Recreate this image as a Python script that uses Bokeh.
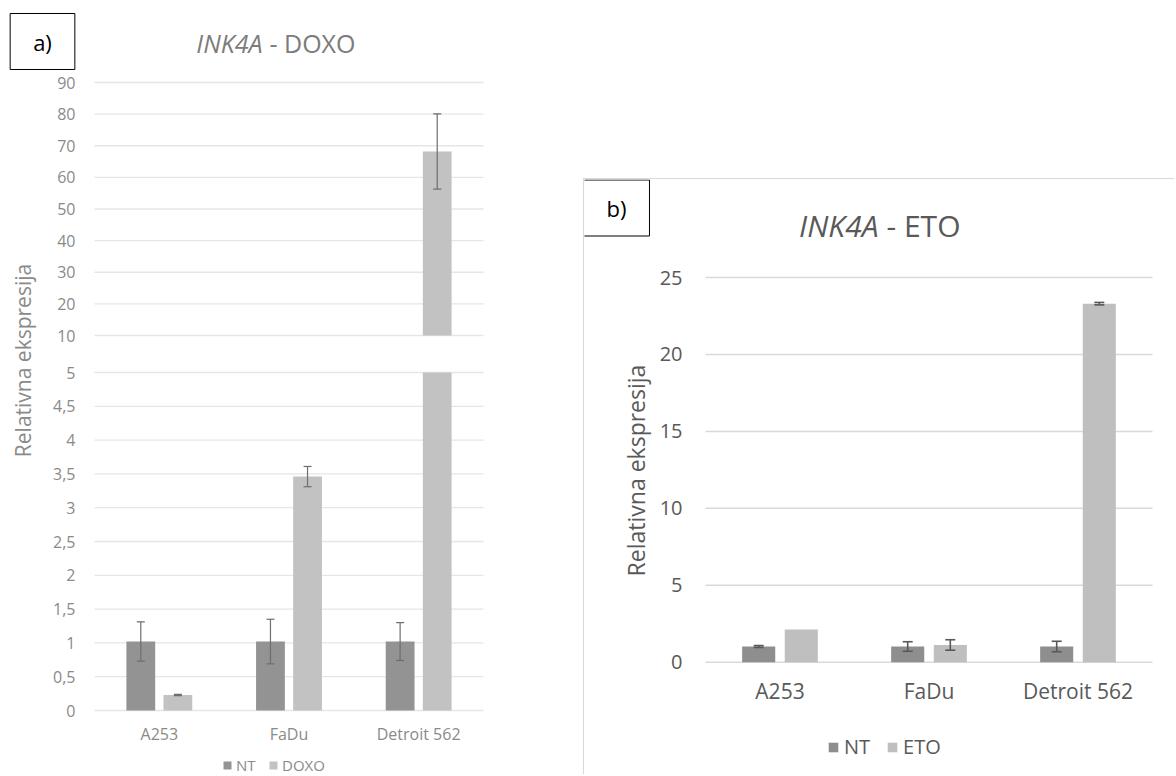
import numpy as np
from bokeh.plotting import figure
from bokeh.models import (Range1d, LinearAxis, FixedTicker, Whisker, TeeHead, ColumnDataSource,
                          Label, Legend, LegendItem, CustomJSTickFormatter, Spacer)
from bokeh.layouts import row, column
from bokeh.transform import dodge
from bokeh.embed import file_html
from bokeh.resources import INLINE

# ---------------- data ----------------
categories = ["A253", "FaDu", "Detroit 562"]
series_a = ["NT", "DOXO"]
series_b = ["NT", "ETO"]

doxo_nt = [1.02, 1.02, 1.02]
doxo_nt_err = [0.29, 0.33, 0.28]
doxo = [0.23, 3.46, 68.2]
doxo_err = [0.01, 0.15, 11.9]

eto_nt = [1.02, 1.02, 1.02]
eto_nt_err = [0.06, 0.31, 0.34]
eto = [2.13, 1.12, 23.3]
eto_err = [0.0, 0.34, 0.08]

a_low_ticks = [0, 0.5, 1, 1.5, 2, 2.5, 3, 3.5, 4, 4.5, 5]
a_high_ticks = [10, 20, 30, 40, 50, 60, 70, 80, 90]
b_ticks = [0, 5, 10, 15, 20, 25]
break_low, break_high = 5, 10

title_gene = "INK4A"
title_a_rest = "- DOXO"
title_b_rest = "- ETO"
y_label = "Relativna ekspresija"

# ---------------- styles ----------------
FONT = "Open Sans"
OFF = 0.143
BW = 0.222
NCAT = len(categories)
pos = [i + 0.5 for i in range(NCAT)]

A_NT, A_TRT, A_ERR, A_GRID, A_TEXT, A_TITLE = "#939393", "#c2c2c2", "#6e6e6e", "#e6e6e6", "#8a8a8a", "#7c7c7c"
B_NT, B_TRT, B_ERR, B_GRID, B_TEXT = "#8e8e8e", "#bfbfbf", "#595959", "#d9d9d9", "#595959"


def lin(px, px_a, val_a, px_b, val_b):
    return val_a + (px - px_a) * (val_b - val_a) / (px_b - px_a)


def px_range(px_a, val_a, px_b, val_b, edge0, edge1):
    return Range1d(lin(edge0, px_a, val_a, px_b, val_b), lin(edge1, px_a, val_a, px_b, val_b))


def whisker(p, src, off, color, size, lw, yname="default"):
    w = Whisker(base=dodge("pos", off), lower="lo", upper="hi", source=src,
                dimension="height", line_color=color, line_width=lw, y_range_name=yname,
                level="annotation",
                upper_head=TeeHead(size=size, line_color=color, line_width=lw),
                lower_head=TeeHead(size=size, line_color=color, line_width=lw))
    p.add_layout(w)


def style_axis(ax, size, color, standoff):
    ax.axis_line_color = None
    ax.major_tick_line_color = None
    ax.minor_tick_line_color = None
    ax.major_tick_out = 0
    ax.major_tick_in = 0
    ax.minor_tick_out = 0
    ax.major_label_text_font = FONT
    ax.major_label_text_font_size = size
    ax.major_label_text_color = color
    ax.major_label_standoff = standoff
    ax.fixed_location = 0


def err_source(idx, vals, errs):
    return ColumnDataSource(dict(pos=[pos[i] for i in idx],
                                 lo=[vals[i] - errs[i] for i in idx],
                                 hi=[vals[i] + errs[i] for i in idx]))


def new_fig(xr, yr, w, h):
    p = figure(x_range=xr, y_range=yr, width=w, height=h, output_backend="svg",
               toolbar_location=None, min_border=0, min_border_left=0, min_border_right=0,
               min_border_top=0, min_border_bottom=0, outline_line_color=None)
    p.xgrid.visible = False
    p.ygrid.visible = False
    p.xaxis.ticker = FixedTicker(ticks=pos)
    p.xaxis.formatter = CustomJSTickFormatter(args=dict(names=categories),
                                              code="return names[Math.round(tick - 0.5)];")
    return p


def text_label(p, x, y, text, size, color, align="center", style="normal", angle=0.0):
    p.add_layout(Label(x=x, y=y, text=text, text_align=align, text_baseline="middle",
                       text_font=FONT, text_font_size=size, text_font_style=style,
                       text_color=color, angle=angle))


def box_label(p, x, y, text, pad):
    p.add_layout(Label(x=x, y=y, text=text, text_align="center", text_baseline="middle",
                       text_font=FONT, text_font_size="22px", text_color="black",
                       border_line_color="black", border_line_width=1,
                       background_fill_color="white", padding=pad))


# ================= panel a (canvas at window 0,0) =================
A_W, A_H = 583, 776
ax_ = (94, 0, 483, NCAT)                # px of category-area edges
ay_lo = (710, 0, 372, break_low)        # px rows of 0 and 5
ay_hi = (335, break_high, 82, 90)       # px rows of 10 and 90

pa = new_fig(px_range(*ax_, 0, A_W), px_range(*ay_lo, A_H, 0), A_W, A_H)
pa.extra_y_ranges = {"hi": px_range(*ay_hi, A_H, 0)}

def a_x(px): return lin(px, *ax_)
def a_y(py): return lin(py, *ay_lo)

pa.segment(x0=0, x1=NCAT, y0=a_low_ticks, y1=a_low_ticks, line_color=A_GRID, line_width=1.3)
pa.segment(x0=0, x1=NCAT, y0=a_high_ticks, y1=a_high_ticks, line_color=A_GRID, line_width=1.3,
           y_range_name="hi")

src_a = ColumnDataSource(dict(pos=pos, nt=doxo_nt, trt_cut=list(np.minimum(doxo, break_low))))
r_a_nt = pa.vbar(x=dodge("pos", -OFF), top="nt", width=BW, source=src_a,
                 fill_color=A_NT, line_color=None)
r_a_trt = pa.vbar(x=dodge("pos", OFF), top="trt_cut", width=BW, source=src_a,
                  fill_color=A_TRT, line_color=None)
hi_idx = [i for i, v in enumerate(doxo) if v > break_high]
src_a_hi = err_source(hi_idx, doxo, doxo_err)
src_a_hi.data["top"] = [doxo[i] for i in hi_idx]
src_a_hi.data["bottom"] = [break_high] * len(hi_idx)
pa.vbar(x=dodge("pos", OFF), bottom="bottom", top="top", width=BW, source=src_a_hi,
        y_range_name="hi", fill_color=A_TRT, line_color=None)

lo_idx = [i for i, v in enumerate(doxo) if v <= break_low]
whisker(pa, err_source(range(NCAT), doxo_nt, doxo_nt_err), -OFF, A_ERR, 8, 1.2)
whisker(pa, err_source(lo_idx, doxo, doxo_err), OFF, A_ERR, 8, 1.2)
whisker(pa, src_a_hi, OFF, A_ERR, 8, 1.2, "hi")

ya = pa.yaxis[0]
ya.ticker = FixedTicker(ticks=a_low_ticks)
ya.formatter = CustomJSTickFormatter(code="return String(tick).replace('.', ',');")
ya_hi = LinearAxis(y_range_name="hi", ticker=FixedTicker(ticks=a_high_ticks))
pa.add_layout(ya_hi, "left")
for ax in (ya, ya_hi):
    style_axis(ax, "16px", A_TEXT, 19)
style_axis(pa.xaxis[0], "16px", A_TEXT, 12)

text_label(pa, a_x(262), a_y(42), title_gene, "25px", A_TITLE, "right", "italic")
text_label(pa, a_x(269), a_y(42), title_a_rest, "25px", A_TITLE, "left")
box_label(pa, a_x(42), a_y(41), "a)", (23, 23, 13, 13))
text_label(pa, a_x(22), a_y(360), y_label, "21px", A_TEXT, angle=np.pi / 2)
leg_a = Legend(items=[LegendItem(label=series_a[0], renderers=[r_a_nt]),
                      LegendItem(label=series_a[1], renderers=[r_a_trt])],
               location=(222, 1), orientation="horizontal", label_text_font=FONT,
               label_text_font_size="15px", label_text_color=A_TEXT, glyph_width=10,
               glyph_height=10, spacing=12, label_standoff=4, padding=0, margin=0,
               border_line_color=None, background_fill_alpha=0)
pa.add_layout(leg_a)

# ================= panel b (canvas at window 584,179) =================
B_X0, B_Y0, B_W, B_H = 584, 179, 591, 596
bx_ = (705, 0, 1152, NCAT)
by_ = (661.7, 0, 277, b_ticks[-1])

pb = new_fig(px_range(*bx_, B_X0, B_X0 + B_W), px_range(*by_, B_Y0 + B_H, B_Y0), B_W, B_H)
pb.styles = {"border-top": "1px solid #d9d9d9", "border-left": "1px solid #d9d9d9"}

def b_x(px): return lin(px, *bx_)
def b_y(py): return lin(py, *by_)

pb.segment(x0=0, x1=NCAT, y0=b_ticks, y1=b_ticks, line_color=B_GRID, line_width=1.5)

src_b = ColumnDataSource(dict(pos=pos, nt=eto_nt, trt=eto))
r_b_nt = pb.vbar(x=dodge("pos", -OFF), top="nt", width=BW, source=src_b,
                 fill_color=B_NT, line_color=None)
r_b_trt = pb.vbar(x=dodge("pos", OFF), top="trt", width=BW, source=src_b,
                  fill_color=B_TRT, line_color=None)
whisker(pb, err_source([i for i, e in enumerate(eto_nt_err) if e > 0], eto_nt, eto_nt_err),
        -OFF, B_ERR, 10, 1.6)
whisker(pb, err_source([i for i, e in enumerate(eto_err) if e > 0], eto, eto_err),
        OFF, B_ERR, 10, 1.6)

pb.yaxis.ticker = FixedTicker(ticks=b_ticks)
style_axis(pb.yaxis[0], "20px", B_TEXT, 23)
style_axis(pb.xaxis[0], "21px", B_TEXT, 15)

text_label(pb, b_x(878), b_y(225), title_gene, "30px", B_TEXT, "right", "italic")
text_label(pb, b_x(886), b_y(225), title_b_rest, "30px", B_TEXT, "left")
box_label(pb, b_x(616), b_y(207.5), "b)", (23, 23, 13, 13))
text_label(pb, b_x(635), b_y(470), y_label, "23px", B_TEXT, angle=np.pi / 2)
leg_b = Legend(items=[LegendItem(label=series_b[0], renderers=[r_b_nt]),
                      LegendItem(label=series_b[1], renderers=[r_b_trt])],
               location=(827 - B_X0, B_Y0 + B_H - 760), orientation="horizontal",
               label_text_font=FONT, label_text_font_size="20px", label_text_color=B_TEXT,
               glyph_width=12, glyph_height=12, spacing=16, label_standoff=5, padding=0,
               margin=0, border_line_color=None, background_fill_alpha=0)
pb.add_layout(leg_b)

layout = row(pa, column(Spacer(width=B_W + 1, height=B_Y0 - 1), pb))
open("out.html", "w").write(file_html(layout, INLINE, "INK4A"))
